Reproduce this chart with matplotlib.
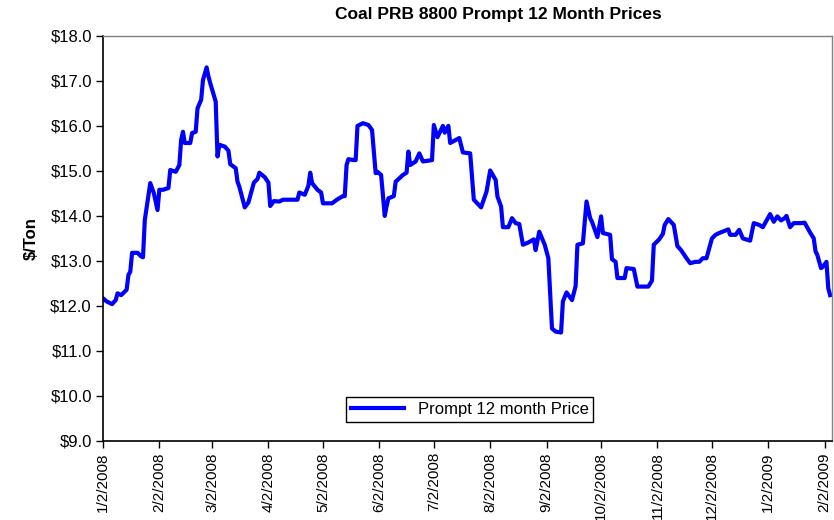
import matplotlib
matplotlib.use("Agg")
import matplotlib.pyplot as plt
import matplotlib.ticker as mticker
import pandas as pd

plt.rcParams['font.family'] = ['Liberation Sans', 'DejaVu Sans']

# series start; points are given as days since this date
start_date = "2008-01-02"
day = [
    0, 2, 5, 7, 8, 10, 13, 14, 15, 16, 19, 21, 22, 23, 26, 28, 30, 31, 33, 36,
    37, 40, 42, 43, 44, 45, 48, 49, 51, 52, 54, 55, 57, 58, 59, 62, 63, 64, 67, 69,
    70, 73, 74, 75, 78, 80, 83, 85, 86, 89, 91, 92, 94, 97, 99, 107, 108, 111, 113, 114,
    115, 118, 120, 121, 126, 129, 132, 133, 134, 135, 138, 139, 140, 143, 146, 148, 150, 151, 153, 155,
    156, 157, 160, 161, 165, 167, 168, 169, 172, 174, 176, 181, 182, 184, 187, 188, 190, 191, 196, 198,
    202, 204, 208, 211, 213, 216, 217, 219, 220, 223, 225, 227, 229, 231, 234, 237, 238, 240, 243, 245,
    247, 249, 252, 253, 255, 258, 260, 261, 264, 266, 268, 269, 272, 274, 275, 279, 280, 282, 283, 287,
    288, 292, 294, 300, 302, 303, 306, 308, 309, 311, 314, 316, 318, 321, 323, 326, 328, 330, 332, 335,
    337, 339, 344, 345, 348, 350, 352, 356, 358, 361, 363, 367, 369, 371, 373, 375, 376, 378, 380, 384,
    386, 389, 391, 392, 393, 395, 396, 398, 399, 400,
]
price = [
    12.17, 12.10, 12.04, 12.13, 12.28, 12.24, 12.36, 12.69, 12.76, 13.18, 13.18, 13.10, 13.08, 13.91, 14.73, 14.50, 14.13, 14.58, 14.58, 14.62,
    15.02, 14.98, 15.13, 15.69, 15.87, 15.62, 15.62, 15.84, 15.87, 16.39, 16.58, 17.02, 17.30, 17.10, 16.95, 16.54, 15.32, 15.58, 15.54, 15.45,
    15.15, 15.06, 14.76, 14.65, 14.19, 14.30, 14.74, 14.82, 14.96, 14.86, 14.74, 14.22, 14.33, 14.32, 14.36, 14.36, 14.52, 14.47, 14.67, 14.96,
    14.73, 14.58, 14.52, 14.28, 14.28, 14.37, 14.44, 14.44, 15.13, 15.26, 15.24, 15.24, 16.00, 16.06, 16.02, 15.91, 14.95, 14.98, 14.91, 14.00,
    14.21, 14.39, 14.44, 14.76, 14.91, 14.96, 15.43, 15.13, 15.21, 15.39, 15.21, 15.24, 16.02, 15.75, 16.00, 15.85, 16.00, 15.62, 15.73, 15.41,
    15.39, 14.36, 14.19, 14.54, 15.01, 14.80, 14.43, 14.21, 13.75, 13.75, 13.95, 13.84, 13.82, 13.36, 13.41, 13.48, 13.24, 13.65, 13.36, 13.06,
    11.50, 11.43, 11.41, 12.10, 12.30, 12.13, 12.44, 13.36, 13.39, 14.32, 13.95, 13.87, 13.53, 13.99, 13.62, 13.58, 13.04, 12.98, 12.62, 12.62,
    12.84, 12.82, 12.43, 12.43, 12.56, 13.36, 13.48, 13.60, 13.80, 13.93, 13.80, 13.33, 13.24, 13.06, 12.95, 12.98, 12.98, 13.06, 13.06, 13.50,
    13.58, 13.62, 13.70, 13.58, 13.58, 13.69, 13.50, 13.45, 13.84, 13.80, 13.75, 14.04, 13.87, 13.99, 13.90, 13.95, 14.00, 13.75, 13.84, 13.84,
    13.85, 13.63, 13.50, 13.21, 13.13, 12.84, 12.87, 12.98, 12.39, 12.24,
]
tick_dates = pd.date_range("2008-01-01", "2009-02-01", freq="MS") + pd.Timedelta(days=1)
y_ticks = [9, 10, 11, 12, 13, 14, 15, 16, 17, 18]

dates = pd.Timestamp(start_date) + pd.to_timedelta(day, unit="D")

fig = plt.figure(figsize=(8.34, 5.2), dpi=100)
ax = fig.add_axes([0.1235, 0.152, 0.874, 0.779])

ax.plot(dates, price, color="#0000FF", linewidth=3.0, solid_joinstyle="round",
        label="Prompt 12 month Price")

ax.set_xlim(pd.Timestamp(start_date), pd.Timestamp(start_date) + pd.Timedelta(days=401))
ax.set_ylim(9, 18)
ax.set_yticks(y_ticks)
ax.yaxis.set_major_formatter(mticker.FuncFormatter(lambda v, p: f"${v:.1f}"))
ax.set_xticks(tick_dates)
ax.set_xticklabels([f"{d.month}/{d.day}/{d.year}" for d in tick_dates], rotation=90)

ax.tick_params(axis="y", direction="out", length=5, width=1, labelsize=12, pad=3)
ax.tick_params(axis="x", direction="out", length=5, width=1, labelsize=11, pad=3)

for side in ["left", "bottom"]:
    ax.spines[side].set_color("black")
    ax.spines[side].set_linewidth(1.2)
for side in ["top", "right"]:
    ax.spines[side].set_color("#808080")
    ax.spines[side].set_linewidth(1.0)

ax.set_ylabel("$/Ton", fontsize=12, fontweight="bold", labelpad=8)
fig.text(0.597, 0.972, "Coal PRB 8800 Prompt 12 Month Prices", ha="center", va="center",
         fontsize=12.5, fontweight="bold")

leg = ax.legend(loc="center", bbox_to_anchor=(0.503, 0.077), fontsize=12, fancybox=False,
                edgecolor="black", framealpha=1, handlelength=3.2, borderpad=0.3,
                shadow=False)
leg.get_frame().set_linewidth(1.0)

fig.savefig("out.png", dpi=100)
